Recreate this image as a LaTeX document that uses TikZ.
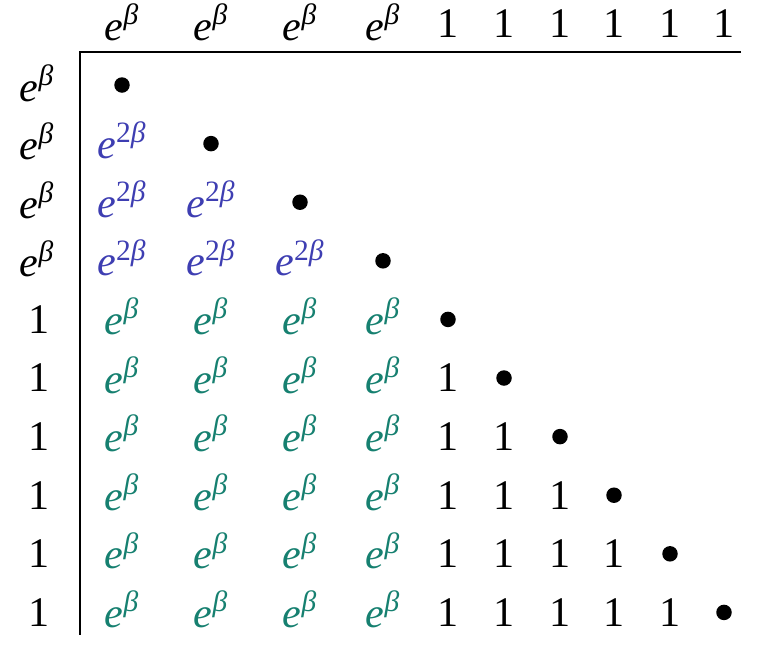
\documentclass[tikz,border=0pt]{standalone}
\usepackage{fontspec}
\setmainfont{Liberation Serif}
\usetikzlibrary{positioning}
\definecolor{pairblue}{RGB}{62,62,178}
\definecolor{pairteal}{RGB}{22,128,112}
\newcommand{\eb}{\textit{e}\textsuperscript{\textit{β}}}
\newcommand{\ebb}{\textit{e}\textsuperscript{2\textit{β}}}
\def\colx{{122,211,300,383,448,504,560,614,670,724}}

\begin{document}
\begin{tikzpicture}[x=0.02cm,y=-0.02cm,
	entry/.style={rectangle,inner sep=0pt,font=\fontsize{24}{28}\selectfont},
	dot/.style={circle,fill=black,inner sep=0pt,minimum size=0.31cm}]
	\useasboundingbox (0,0) rectangle (774,650);
	% header row
	\foreach \i in {1,...,10} {
		\pgfmathsetmacro\cx{\colx[\i-1]}
		\ifnum\i<5
			\node[entry] at (\cx,22) (h\i) {\eb};
		\else
			\node[entry] at (\cx,24) (h\i) {1};
		\fi
	}
	% row labels and diagonal
	\foreach \i in {1,...,10} {
		\pgfmathsetmacro\cx{\colx[\i-1]}
		\pgfmathsetmacro\ry{85+58.6*(\i-1)}
		\ifnum\i<5
			\node[entry] at (37,\ry-2) (r\i) {\eb};
		\else
			\node[entry] at (39,\ry) (r\i) {1};
		\fi
		\node[dot] at (\cx,\ry) (d\i) {};
	}
	% blue block
	\foreach \i [evaluate=\i as \k using int(\i-1)] in {2,3,4}
		\foreach \j in {1,...,\k} {
			\pgfmathsetmacro\cx{\colx[\j-1]}
			\pgfmathsetmacro\ry{85+58.6*(\i-1)-3}
			\node[entry,text=pairblue] at (\cx,\ry) (c\i-\j) {\ebb};
		}
	% teal block
	\foreach \i in {5,...,10}
		\foreach \j in {1,...,4} {
			\pgfmathsetmacro\cx{\colx[\j-1]}
			\pgfmathsetmacro\ry{85+58.6*(\i-1)-3}
			\node[entry,text=pairteal] at (\cx,\ry) (c\i-\j) {\eb};
		}
	% ones
	\foreach \i [evaluate=\i as \k using int(\i-1)] in {6,...,10}
		\foreach \j in {5,...,\k} {
			\pgfmathsetmacro\cx{\colx[\j-1]}
			\pgfmathsetmacro\ry{85+58.6*(\i-1)}
			\node[entry] at (\cx,\ry) (c\i-\j) {1};
		}
	% axes
	\coordinate (corner) at (80,52);
	\coordinate (hend) at (741,52);
	\coordinate (vend) at (80,635);
	\draw[line width=1.1pt] (hend) -- (corner) -- (vend);
\end{tikzpicture}
\end{document}
